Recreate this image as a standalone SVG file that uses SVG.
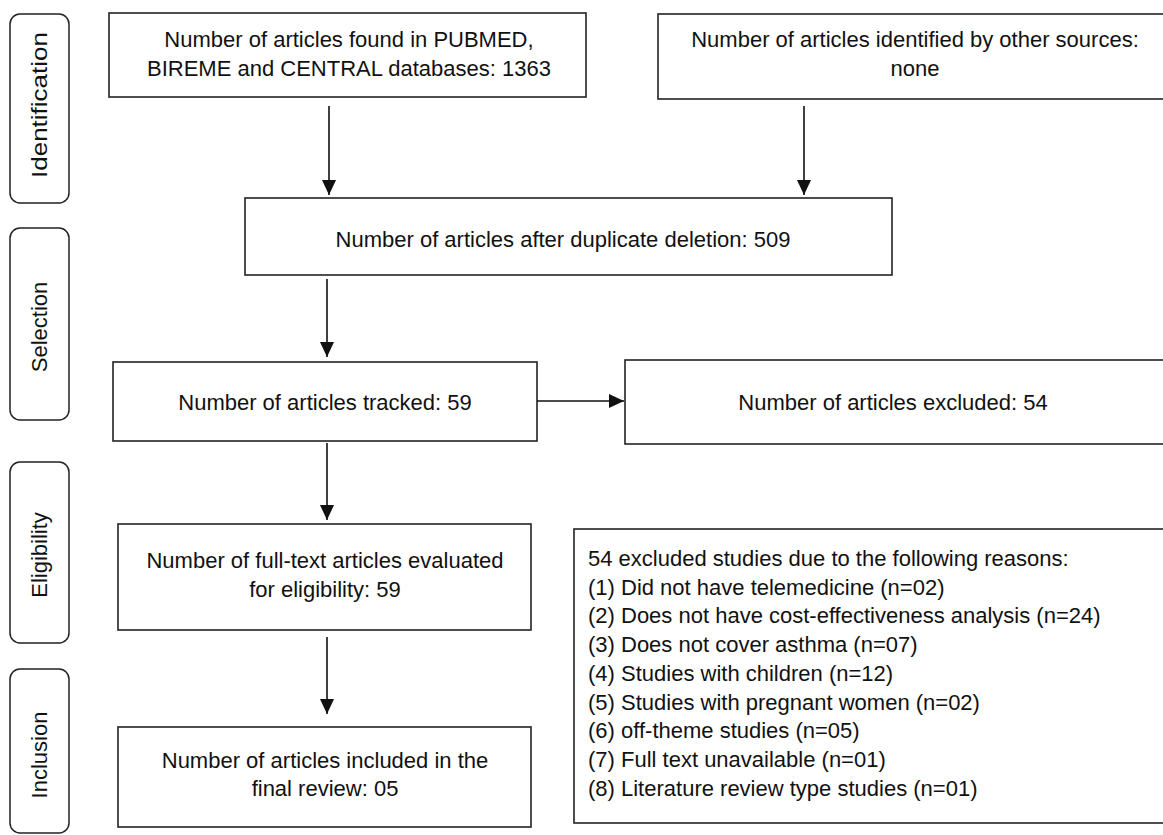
<svg xmlns="http://www.w3.org/2000/svg" width="1163" height="835" viewBox="0 0 1163 835">
<style>
  .box { fill: #ffffff; stroke: #222222; stroke-width: 1.6; }
  .lbl { fill: #ffffff; stroke: #222222; stroke-width: 1.5; }
  .t { font-family: "Liberation Sans", Arial, sans-serif; font-size: 22px; fill: #111111; }
  .c { text-anchor: middle; }
  .conn { stroke: #111111; stroke-width: 1.6; fill: none; }
</style>
<defs>
  <marker id="ah" viewBox="0 0 15 14" refX="15" refY="7" markerWidth="15" markerHeight="14" markerUnits="userSpaceOnUse" orient="auto">
    <path d="M0,0 L15,7 L0,14 z" fill="#111111"/>
  </marker>
</defs>
<rect width="1163" height="835" fill="#ffffff"/>

<g id="stage-identification">
  <rect class="lbl" x="10" y="14" width="59" height="189" rx="10"/>
  <text class="t c" transform="translate(47,105) rotate(-90)" textLength="146" lengthAdjust="spacingAndGlyphs">Identification</text>
</g>
<g id="stage-selection">
  <rect class="lbl" x="10" y="228" width="59" height="192" rx="10"/>
  <text class="t c" transform="translate(47,327) rotate(-90)">Selection</text>
</g>
<g id="stage-eligibility">
  <rect class="lbl" x="10" y="462" width="59" height="181" rx="10"/>
  <text class="t c" transform="translate(47,555) rotate(-90)">Eligibility</text>
</g>
<g id="stage-inclusion">
  <rect class="lbl" x="10" y="669" width="59" height="164" rx="10"/>
  <text class="t c" transform="translate(47,755) rotate(-90)">Inclusion</text>
</g>

<g id="n-databases">
  <rect class="box" x="109" y="13" width="477" height="84"/>
  <text class="t c" x="349" y="47">Number of articles found in PUBMED,</text>
  <text class="t c" x="349" y="76">BIREME and CENTRAL databases: 1363</text>
</g>
<g id="n-other">
  <rect class="box" x="658" y="14" width="515" height="85"/>
  <text class="t c" x="915" y="47">Number of articles identified by other sources:</text>
  <text class="t c" x="915" y="76">none</text>
</g>
<g id="n-duplicates">
  <rect class="box" x="245" y="198" width="647" height="77"/>
  <text class="t c" x="563" y="247">Number of articles after duplicate deletion: 509</text>
</g>
<g id="n-tracked">
  <rect class="box" x="113" y="362" width="424" height="79"/>
  <text class="t c" x="325" y="410">Number of articles tracked: 59</text>
</g>
<g id="n-excluded">
  <rect class="box" x="625" y="360" width="545" height="84"/>
  <text class="t c" x="893" y="410">Number of articles excluded: 54</text>
</g>
<g id="n-fulltext">
  <rect class="box" x="118" y="524" width="413" height="106"/>
  <text class="t c" x="325" y="568">Number of full-text articles evaluated</text>
  <text class="t c" x="325" y="597">for eligibility: 59</text>
</g>
<g id="n-reasons">
  <rect class="box" x="574" y="529" width="596" height="294"/>
  <text class="t" x="588" y="566">54 excluded studies due to the following reasons:</text>
  <text class="t" x="588" y="594.7">(1) Did not have telemedicine (n=02)</text>
  <text class="t" x="588" y="623.4">(2) Does not have cost-effectiveness analysis (n=24)</text>
  <text class="t" x="588" y="652.1">(3) Does not cover asthma (n=07)</text>
  <text class="t" x="588" y="680.8">(4) Studies with children (n=12)</text>
  <text class="t" x="588" y="709.5">(5) Studies with pregnant women (n=02)</text>
  <text class="t" x="588" y="738.2">(6) off-theme studies (n=05)</text>
  <text class="t" x="588" y="766.9">(7) Full text unavailable (n=01)</text>
  <text class="t" x="588" y="795.6">(8) Literature review type studies (n=01)</text>
</g>
<g id="n-included">
  <rect class="box" x="118" y="727" width="413" height="100"/>
  <text class="t c" x="325" y="768">Number of articles included in the</text>
  <text class="t c" x="325" y="796">final review: 05</text>
</g>

<g id="connectors">
  <path class="conn" d="M329,106 V195" marker-end="url(#ah)"/>
  <path class="conn" d="M804,106 V195" marker-end="url(#ah)"/>
  <path class="conn" d="M327,279 V357" marker-end="url(#ah)"/>
  <path class="conn" d="M537,401 H624" marker-end="url(#ah)"/>
  <path class="conn" d="M327,443 V520" marker-end="url(#ah)"/>
  <path class="conn" d="M327,637 V714" marker-end="url(#ah)"/>
</g>
</svg>
